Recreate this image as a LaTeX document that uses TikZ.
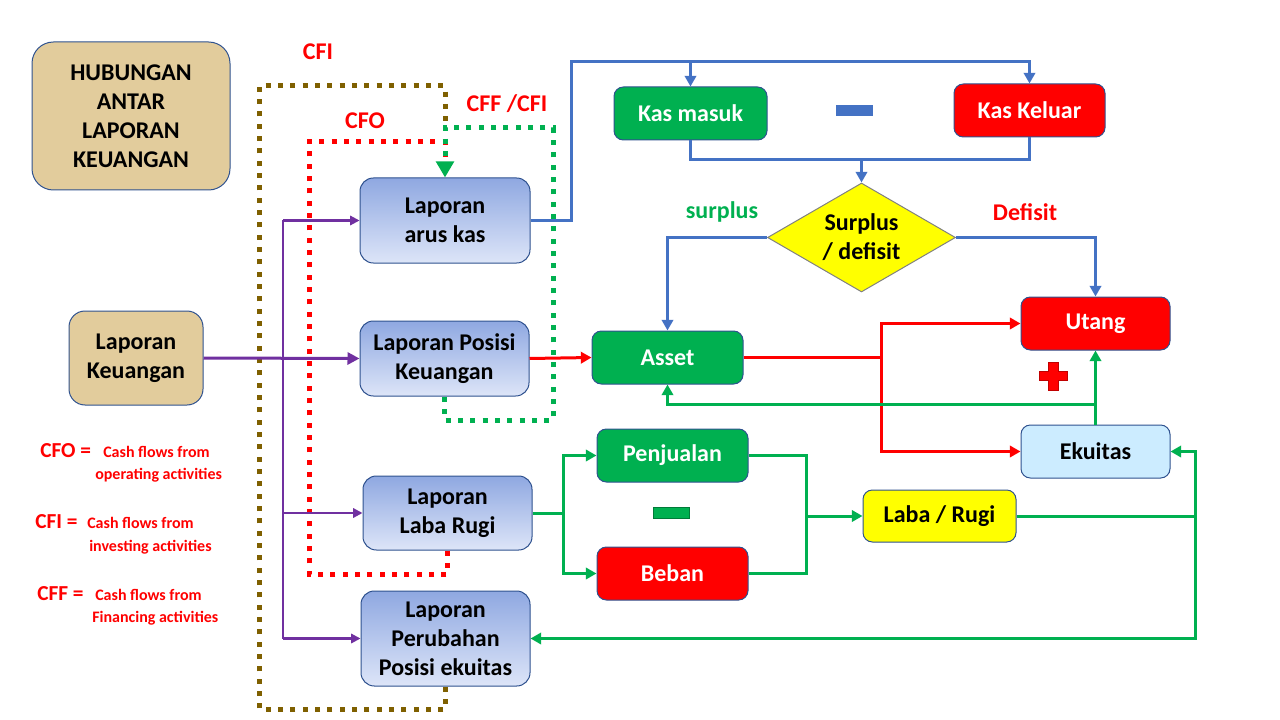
\documentclass[tikz,border=0pt]{standalone}
\usepackage{fontspec}
\setmainfont{Carlito}
\usetikzlibrary{shapes.geometric,arrows.meta,calc}
\definecolor{cgreen}{RGB}{0,176,80}
\definecolor{cred}{RGB}{255,0,0}
\definecolor{cdred}{RGB}{192,0,0}
\definecolor{cblue}{RGB}{68,114,196}
\definecolor{cpurple}{RGB}{112,48,160}
\definecolor{cbrown}{RGB}{127,96,0}
\definecolor{cborder}{RGB}{47,82,143}
\definecolor{ctan}{RGB}{226,204,156}
\definecolor{cyellow}{RGB}{255,255,0}
\definecolor{cltblue}{RGB}{204,236,255}
\definecolor{cgtop}{RGB}{143,168,225}
\definecolor{cgbot}{RGB}{221,229,248}
\definecolor{cgrey}{RGB}{128,128,128}
\begin{document}
\begin{tikzpicture}[x=0.75pt,y=-0.75pt,
  sz/.style 2 args={minimum width=#1*0.75pt, minimum height=#2*0.75pt},
  base/.style={inner sep=0pt, align=center, font=\bfseries\fontsize{18}{21.75}\selectfont},
  lap/.style={base, draw=cborder, line width=0.75pt, rounded corners=10pt, top color=cgtop, bottom color=cgbot},
  tanbox/.style={base, draw=cborder, line width=0.75pt, rounded corners=16pt, fill=ctan},
  gbox/.style={base, draw=cborder, line width=0.75pt, rounded corners=7pt, fill=cgreen, text=white},
  rbox/.style={base, draw=cborder, line width=0.75pt, rounded corners=7pt, fill=cred, text=white},
  ybox/.style={base, draw=cborder, line width=0.75pt, rounded corners=7pt, fill=cyellow},
  ebox/.style={base, draw=cborder, line width=0.75pt, rounded corners=7pt, fill=cltblue},
  dia/.style={inner sep=0pt, diamond, draw=cgrey, line width=0.75pt, fill=cyellow},
  tip/.style={-{Triangle[length=8pt,width=8.5pt]}},
  bl/.style={draw=cblue, line width=2.25pt},
  rd/.style={draw=cred, line width=2.25pt},
  gr/.style={draw=cgreen, line width=2.25pt},
  pu/.style={draw=cpurple, line width=1.6pt},
  dotline/.style={line width=3.75pt, dash pattern=on 3.75pt off 5.5pt},
  lab/.style={inner sep=0pt, font=\bfseries\fontsize{18}{21}\selectfont},
  legbig/.style={inner sep=0pt, anchor=base west, text=cred, font=\bfseries\fontsize{16}{19}\selectfont},
  legsm/.style={inner sep=0pt, anchor=base west, text=cred, font=\bfseries\fontsize{12}{14}\selectfont}
]
\useasboundingbox (0,0) rectangle (1280,720);

% boxes
\node[tanbox, sz={198}{148}] (hub) at (131,116) {HUBUNGAN\\ANTAR\\LAPORAN\\KEUANGAN};
\node[tanbox, sz={134}{94}, rounded corners=12pt] (lk) at (136,358) {Laporan\\Keuangan};

\node[lap, sz={170}{85}] (lak) at (445,220.5) {Laporan\\arus kas};
\node[lap, sz={169}{75}] (lpk) at (444.5,358.5) {Laporan Posisi\\Keuangan};
\node[lap, sz={169}{74}] (llr) at (447.5,513) {Laporan\\Laba Rugi};
\node[lap, sz={169}{95}] (lpe) at (445.5,638.5) {Laporan\\Perubahan\\Posisi ekuitas};

\node[gbox, sz={153}{53}] (km) at (690.5,113.5) {Kas masuk};
\node[rbox, sz={151}{53}] (kk) at (1029.5,110.5) {Kas Keluar};
\node[dia, sz={188}{109}, shape aspect=1.72] (dd) at (861.5,237.5) {};
\node[base] (ddt) at (dd.center) {Surplus\\/ defisit};
\node[gbox, sz={151}{53}] (asset) at (667.5,357.5) {Asset};
\node[rbox, sz={149}{53}] (utang) at (1095.5,323.5) {Utang};
\node[ebox, sz={149}{53}] (ekuitas) at (1095.5,451.5) {Ekuitas};
\node[gbox, sz={151}{53}] (penj) at (672.5,455.5) {Penjualan};
\node[rbox, sz={151}{53}] (beban) at (672.5,573.5) {Beban};
\node[ybox, sz={153}{52}] (lr) at (939.5,516) {Laba / Rugi};

% minus / plus signs
\fill[cblue] (836,105) rectangle (873,116);
\filldraw[fill=cgreen, draw=cgreen!70!black, line width=0.5pt] (653,507) rectangle (689,518);
\filldraw[fill=cred, draw=cdred, line width=0.75pt]
  (1048,362) -- (1058,362) -- (1058,371) -- (1067,371) -- (1067,380) -- (1058,380)
  -- (1058,390) -- (1048,390) -- (1048,380) -- (1039,380) -- (1039,371) -- (1048,371) -- cycle;

% labels
\node[lab, text=cred] (lcfi) at (318,52) {CFI};
\node[lab, text=cred] (lcfo) at (365,121) {CFO};
\node[lab, text=cred] (lcff) at (507,104) {CFF /CFI};
\node[lab, text=cgreen] (lsur) at (722,212) {surplus};
\node[lab, text=cred] (ldef) at (1025,212) {Defisit};

% legend
\node[legbig] (cfo) at (40,457) {CFO =};
\node[legsm] (cfo2) at (103,457) {Cash flows from};
\node[legsm] (cfo3) at (95,479) {operating activities};
\node[legbig] (cfi) at (35,528) {CFI =};
\node[legsm] (cfi2) at (87,528) {Cash flows from};
\node[legsm] (cfi3) at (89,551) {investing activities};
\node[legbig] (cff) at (37,600) {CFF =};
\node[legsm] (cff2) at (95,600) {Cash flows from};
\node[legsm] (cff3) at (92,622) {Financing activities};

% helper coordinates
\coordinate (pv) at (283,0);
\coordinate (bx) at (571,62);
\coordinate (dm) at (862,160);
\coordinate (rx) at (881,0);
\coordinate (gy) at (0,404);
\coordinate (lx) at (563,0);
\coordinate (mx) at (806,0);
\coordinate (ex) at (1195,0);
\coordinate (b1) at (259,709);
\coordinate (b2) at (259,86);
\coordinate (b3) at (445,128);
\coordinate (r1) at (309,574);
\coordinate (r2) at (309,142);
\coordinate (r3) at (445,158);
\coordinate (g1) at (553,420);
\coordinate (g2) at (553,128);

% dotted loops
\draw[dotline, draw=cbrown] (lpe.south) |- (b1) -- (b2) -| (b3);
\draw[dotline, draw=cred] (llr.south) |- (r1) -- (r2) -| (r3);
\draw[dotline, draw=cgreen, -{Triangle[length=12pt,width=13pt]}] (lpk.south) |- (g1) -- (g2) -| (lak.north);

% purple
\draw[draw=cpurple, line width=2.25pt, -{Triangle[length=9pt,width=9pt]}] (lk.east) -- (lpk.west);
\draw[pu] (pv |- lak.west) -- (pv |- lpe.west);
\draw[pu, -{Triangle[length=7pt,width=7pt]}] (pv |- lak.west) -- (lak.west);
\draw[pu, -{Triangle[length=7pt,width=7pt]}] (pv |- llr.west) -- (llr.west);
\draw[pu, -{Triangle[length=7pt,width=7pt]}] (pv |- lpe.west) -- (lpe.west);

% blue
\draw[bl, tip] (lak.east) -| (bx) -| (kk.north);
\draw[bl, tip] (km.north |- bx) -- (km.north);
\draw[bl] (km.south) |- (kk.south |- dm) -- (kk.south);
\draw[bl, tip] (dd.north |- dm) -- (dd.north);
\draw[bl, tip] (dd.west) -| (asset.north);
\draw[bl, tip] (dd.east) -| (utang.north);

% red
\draw[rd, tip] (lpk.east) -- (asset.west);
\draw[rd, tip] (asset.east) -| (rx |- utang.west) -- (utang.west);
\draw[rd, tip] (rx |- asset.east) |- (ekuitas.west);

% green
\draw[gr, tip] (ekuitas.north) -- (utang.south);
\draw[gr, tip] (ekuitas.north |- gy) -| (asset.south);
\draw[gr, tip] (llr.east) -| (lx |- penj.west) -- (penj.west);
\draw[gr, tip] (lx |- llr.east) |- (beban.west);
\draw[gr] (penj.east) -| (mx |- beban.east) -- (beban.east);
\draw[gr, tip] (mx |- lr.west) -- (lr.west);
\draw[gr, tip] (lr.east) -| (ex |- ekuitas.east) -- (ekuitas.east);
\draw[gr, tip] (ex |- lr.east) |- (lpe.east);
\end{tikzpicture}
\end{document}
